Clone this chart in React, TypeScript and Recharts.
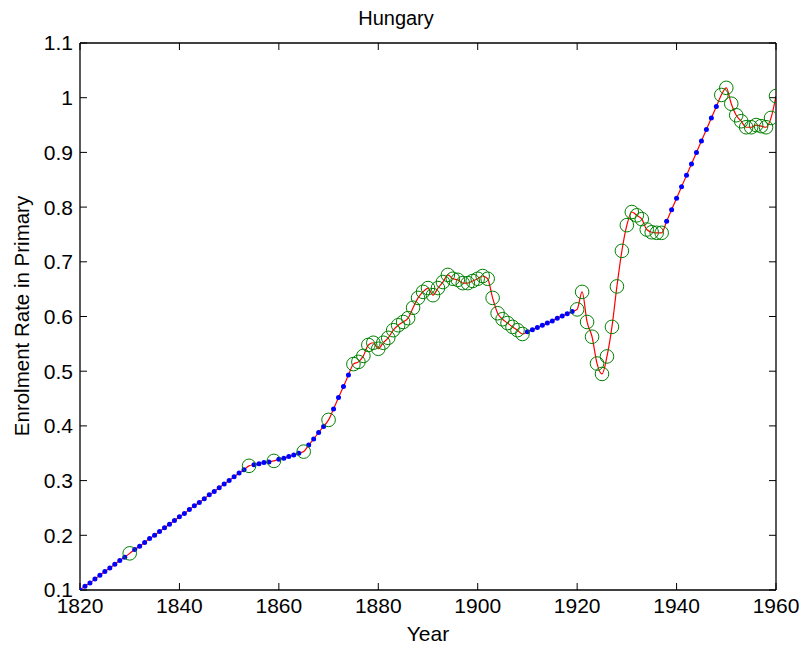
import React from "react";
import { LineChart, Line, XAxis, YAxis } from "recharts";

const startYear = 1820;

// Enrolment rate in primary, one value per year 1820..1960
const enrolment = [
  0.100, 0.107, 0.113, 0.120, 0.127, 0.134, 0.140, 0.147, 0.154, 0.160, // 1820-1829
  0.167, 0.174, 0.180, 0.187, 0.194, 0.200, 0.207, 0.214, 0.220, 0.227, // 1830-1839
  0.234, 0.240, 0.247, 0.254, 0.260, 0.267, 0.274, 0.280, 0.287, 0.294, // 1840-1849
  0.300, 0.307, 0.314, 0.320, 0.327, 0.329, 0.331, 0.333, 0.334, 0.336, // 1850-1859
  0.339, 0.341, 0.344, 0.347, 0.350, 0.353, 0.365, 0.376, 0.388, 0.399, // 1860-1869
  0.411, 0.431, 0.452, 0.472, 0.493, 0.513, 0.517, 0.528, 0.548, 0.552, // 1870-1879
  0.541, 0.552, 0.561, 0.575, 0.584, 0.590, 0.597, 0.616, 0.634, 0.645, // 1880-1889
  0.652, 0.639, 0.652, 0.663, 0.676, 0.669, 0.667, 0.661, 0.661, 0.665, // 1890-1899
  0.669, 0.674, 0.669, 0.634, 0.606, 0.595, 0.588, 0.581, 0.575, 0.568, // 1900-1909
  0.572, 0.576, 0.580, 0.584, 0.588, 0.592, 0.597, 0.601, 0.605, 0.609, // 1910-1919
  0.613, 0.645, 0.590, 0.563, 0.514, 0.495, 0.527, 0.581, 0.655, 0.720, // 1920-1929
  0.767, 0.791, 0.785, 0.778, 0.759, 0.754, 0.753, 0.753, 0.774, 0.795, // 1930-1939
  0.816, 0.837, 0.858, 0.879, 0.900, 0.921, 0.942, 0.963, 0.984, 1.005, // 1940-1949
  1.018, 0.989, 0.968, 0.957, 0.946, 0.946, 0.950, 0.948, 0.946, 0.963, // 1950-1959
  1.003, // 1960
];

// Years with observed data (green circles); other years are interpolated (blue dots)
const observedYears = [
  1830, 1854, 1859, 1865, 1870,
  1875, 1876, 1877, 1878, 1879, 1880, 1881, 1882, 1883, 1884, 1885, 1886, 1887,
  1888, 1889, 1890, 1891, 1892, 1893, 1894, 1895, 1896, 1897, 1898, 1899, 1900,
  1901, 1902, 1903, 1904, 1905, 1906, 1907, 1908, 1909,
  1920, 1921, 1922, 1923, 1924, 1925, 1926, 1927, 1928, 1929, 1930, 1931, 1932,
  1933, 1934, 1935, 1936, 1937,
  1949, 1950, 1951, 1952, 1953, 1954, 1955, 1956, 1957, 1958, 1959, 1960,
];

const xTicks = [1820, 1840, 1860, 1880, 1900, 1920, 1940, 1960];
const yTicks = [0.1, 0.2, 0.3, 0.4, 0.5, 0.6, 0.7, 0.8, 0.9, 1.0, 1.1];

const titleText = "Hungary";
const xLabel = "Year";
const yLabel = "Enrolment Rate in Primary";

const data = enrolment.map((v, i) => {
  const year = startYear + i;
  const isObs = observedYears.includes(year);
  return { year, value: v, obs: isObs ? v : null, interp: isObs ? null : v };
});

const FONT = "'Liberation Sans', Arial, Helvetica, sans-serif";
const noTick = () => <g />;

export default function App() {
  const tickStyle = { fill: "#000", fontSize: 21, fontFamily: FONT };
  const axisLine = { stroke: "#000", strokeWidth: 1.3 };
  const tickLine = { stroke: "#000", strokeWidth: 1 };
  return (
    <div style={{ position: "absolute", left: 0, top: 0, width: 804, height: 649, background: "#fff" }}>
      <LineChart width={804} height={649} data={data} margin={{ top: 0, right: 0, bottom: 0, left: 0 }}>
        <XAxis
          xAxisId="b"
          dataKey="year"
          type="number"
          domain={[1820, 1960]}
          ticks={xTicks}
          height={59}
          tickSize={-7}
          tickMargin={15}
          axisLine={axisLine}
          tickLine={tickLine}
          tick={tickStyle}
          allowDataOverflow
        />
        <XAxis
          xAxisId="t"
          orientation="top"
          dataKey="year"
          type="number"
          domain={[1820, 1960]}
          ticks={xTicks}
          height={43}
          tickSize={-7}
          axisLine={axisLine}
          tickLine={tickLine}
          tick={noTick}
          allowDataOverflow
        />
        <YAxis
          yAxisId="l"
          type="number"
          domain={[0.1, 1.1]}
          ticks={yTicks}
          width={80}
          tickSize={-7}
          tickMargin={14}
          axisLine={axisLine}
          tickLine={tickLine}
          tick={tickStyle}
          tickFormatter={(v: number) => String(Math.round(v * 10) / 10)}
          allowDataOverflow
        />
        <YAxis
          yAxisId="r"
          orientation="right"
          type="number"
          domain={[0.1, 1.1]}
          ticks={yTicks}
          width={28}
          tickSize={-7}
          axisLine={axisLine}
          tickLine={tickLine}
          tick={noTick}
          allowDataOverflow
        />
        <Line
          xAxisId="b"
          yAxisId="l"
          dataKey="interp"
          stroke="none"
          dot={{ r: 2.5, fill: "#0000ff", stroke: "#0000ff", strokeWidth: 0 }}
          activeDot={false}
          isAnimationActive={false}
        />
        <Line
          xAxisId="b"
          yAxisId="l"
          dataKey="value"
          type="monotone"
          stroke="#ff0000"
          strokeWidth={1.2}
          dot={false}
          activeDot={false}
          isAnimationActive={false}
        />
        <Line
          xAxisId="b"
          yAxisId="l"
          dataKey="obs"
          stroke="none"
          dot={{ r: 6.8, fill: "none", stroke: "#008000", strokeWidth: 1 }}
          activeDot={false}
          isAnimationActive={false}
        />
      </LineChart>
      <svg width={804} height={649} style={{ position: "absolute", left: 0, top: 0, pointerEvents: "none" }}>
        <text x={396} y={25} textAnchor="middle" fontSize={20} fontFamily={FONT} fill="#000">
          {titleText}
        </text>
        <text x={428} y={641} textAnchor="middle" fontSize={21} fontFamily={FONT} fill="#000">
          {xLabel}
        </text>
        <text
          x={29}
          y={316}
          textAnchor="middle"
          fontSize={20.5}
          fontFamily={FONT}
          fill="#000"
          transform="rotate(-90 29 316)"
        >
          {yLabel}
        </text>
      </svg>
    </div>
  );
}
